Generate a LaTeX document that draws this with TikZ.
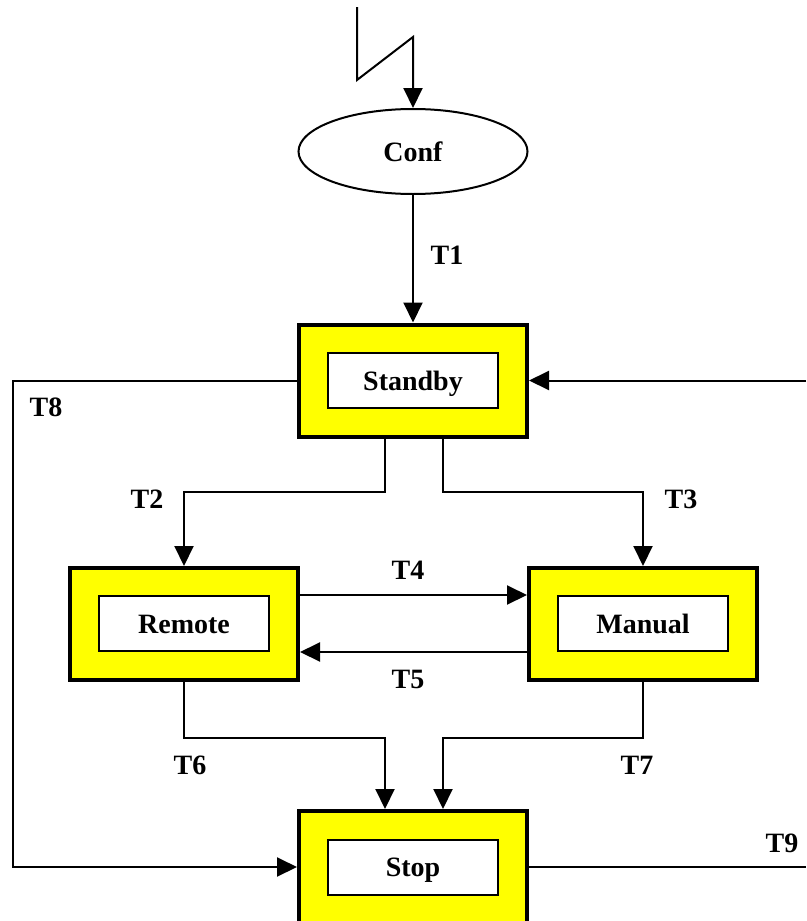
\documentclass[tikz,border=0pt]{standalone}
\usepackage{fontspec}
\setmainfont{Liberation Serif}
\usetikzlibrary{arrows.meta,shapes.geometric}
\definecolor{ylw}{RGB}{255,255,0}
\tikzset{
  lbl/.style={font=\bfseries\fontsize{28}{32}\selectfont, inner sep=0pt},
  outerbox/.style={draw, fill=ylw, line width=4pt, minimum width=228pt, minimum height=112pt, inner sep=0pt},
  innerbox/.style={draw, fill=white, line width=2pt, minimum width=170pt, minimum height=55pt, inner sep=0pt, text height=19pt, text depth=0pt, font=\bfseries\fontsize{28}{32}\selectfont},
  conn/.style={line width=2pt},
  arr/.style={conn, -{Triangle[length=20pt,width=19pt]}},
}
\begin{document}
\begin{tikzpicture}[x=1pt,y=-1pt]
\useasboundingbox (0,0) rectangle (806,921);
% nodes
\node[ellipse, draw, line width=2pt, minimum width=229pt, minimum height=85pt, inner sep=0pt, text height=19pt, text depth=0pt, font=\bfseries\fontsize{28}{32}\selectfont] (conf) at (413,151.5) {Conf};
\node[outerbox] (sbo) at (413,380.5) {};
\node[innerbox] (sb) at (413,380.5) {Standby};
\node[outerbox] (rmo) at (184,624) {};
\node[innerbox] (rm) at (184,623.5) {Remote};
\node[outerbox] (mno) at (643,624) {};
\node[innerbox] (mn) at (643,623.5) {Manual};
\node[outerbox] (spo) at (413,867) {};
\node[innerbox] (sp) at (413,867) {Stop};
% coordinates
\coordinate (z1) at (357,7);
\coordinate (z2) at (357,80);
\coordinate (z3) at (413,37);
\coordinate (l8) at (13,380.5);
\coordinate (l8b) at (13,867);
\coordinate (r1) at (806,380.5);
\coordinate (r9) at (806,867);
\coordinate (b2) at (385,492);
\coordinate (b3) at (443,492);
\coordinate (b6) at (385,738);
\coordinate (b7) at (443,738);
% connectors
\draw[arr, line join=miter] (z1) -- (z2) -- (z3) -- (conf.north);
\draw[arr] (conf.south) -- (sbo.north);
\draw[arr] (sbo.west) -- (l8) -- (l8b) -- (spo.west);
\draw[arr] (r1) -- (sbo.east);
\draw[conn] (spo.east) -- (r9);
\draw[arr] (sbo.south -| b2) -- (b2) -| (rmo.north);
\draw[arr] (sbo.south -| b3) -- (b3) -| (mno.north);
\draw[arr] (rmo.east |- rm.north) -- (mno.west |- rm.north);
\draw[arr] (mno.west |- rm.south) -- (rmo.east |- rm.south);
\draw[arr] (rmo.south) |- (b6) -- (spo.north -| b6);
\draw[arr] (mno.south) |- (b7) -- (spo.north -| b7);
% labels
\node[lbl] (t1) at (447,255) {T1};
\node[lbl] (t2) at (147,499) {T2};
\node[lbl] (t3) at (681,499) {T3};
\node[lbl] (t4) at (408,570) {T4};
\node[lbl] (t5) at (408,679) {T5};
\node[lbl] (t6) at (190,765) {T6};
\node[lbl] (t7) at (637,765) {T7};
\node[lbl] (t8) at (46,407) {T8};
\node[lbl] (t9) at (782,843) {T9};
\end{tikzpicture}
\end{document}
